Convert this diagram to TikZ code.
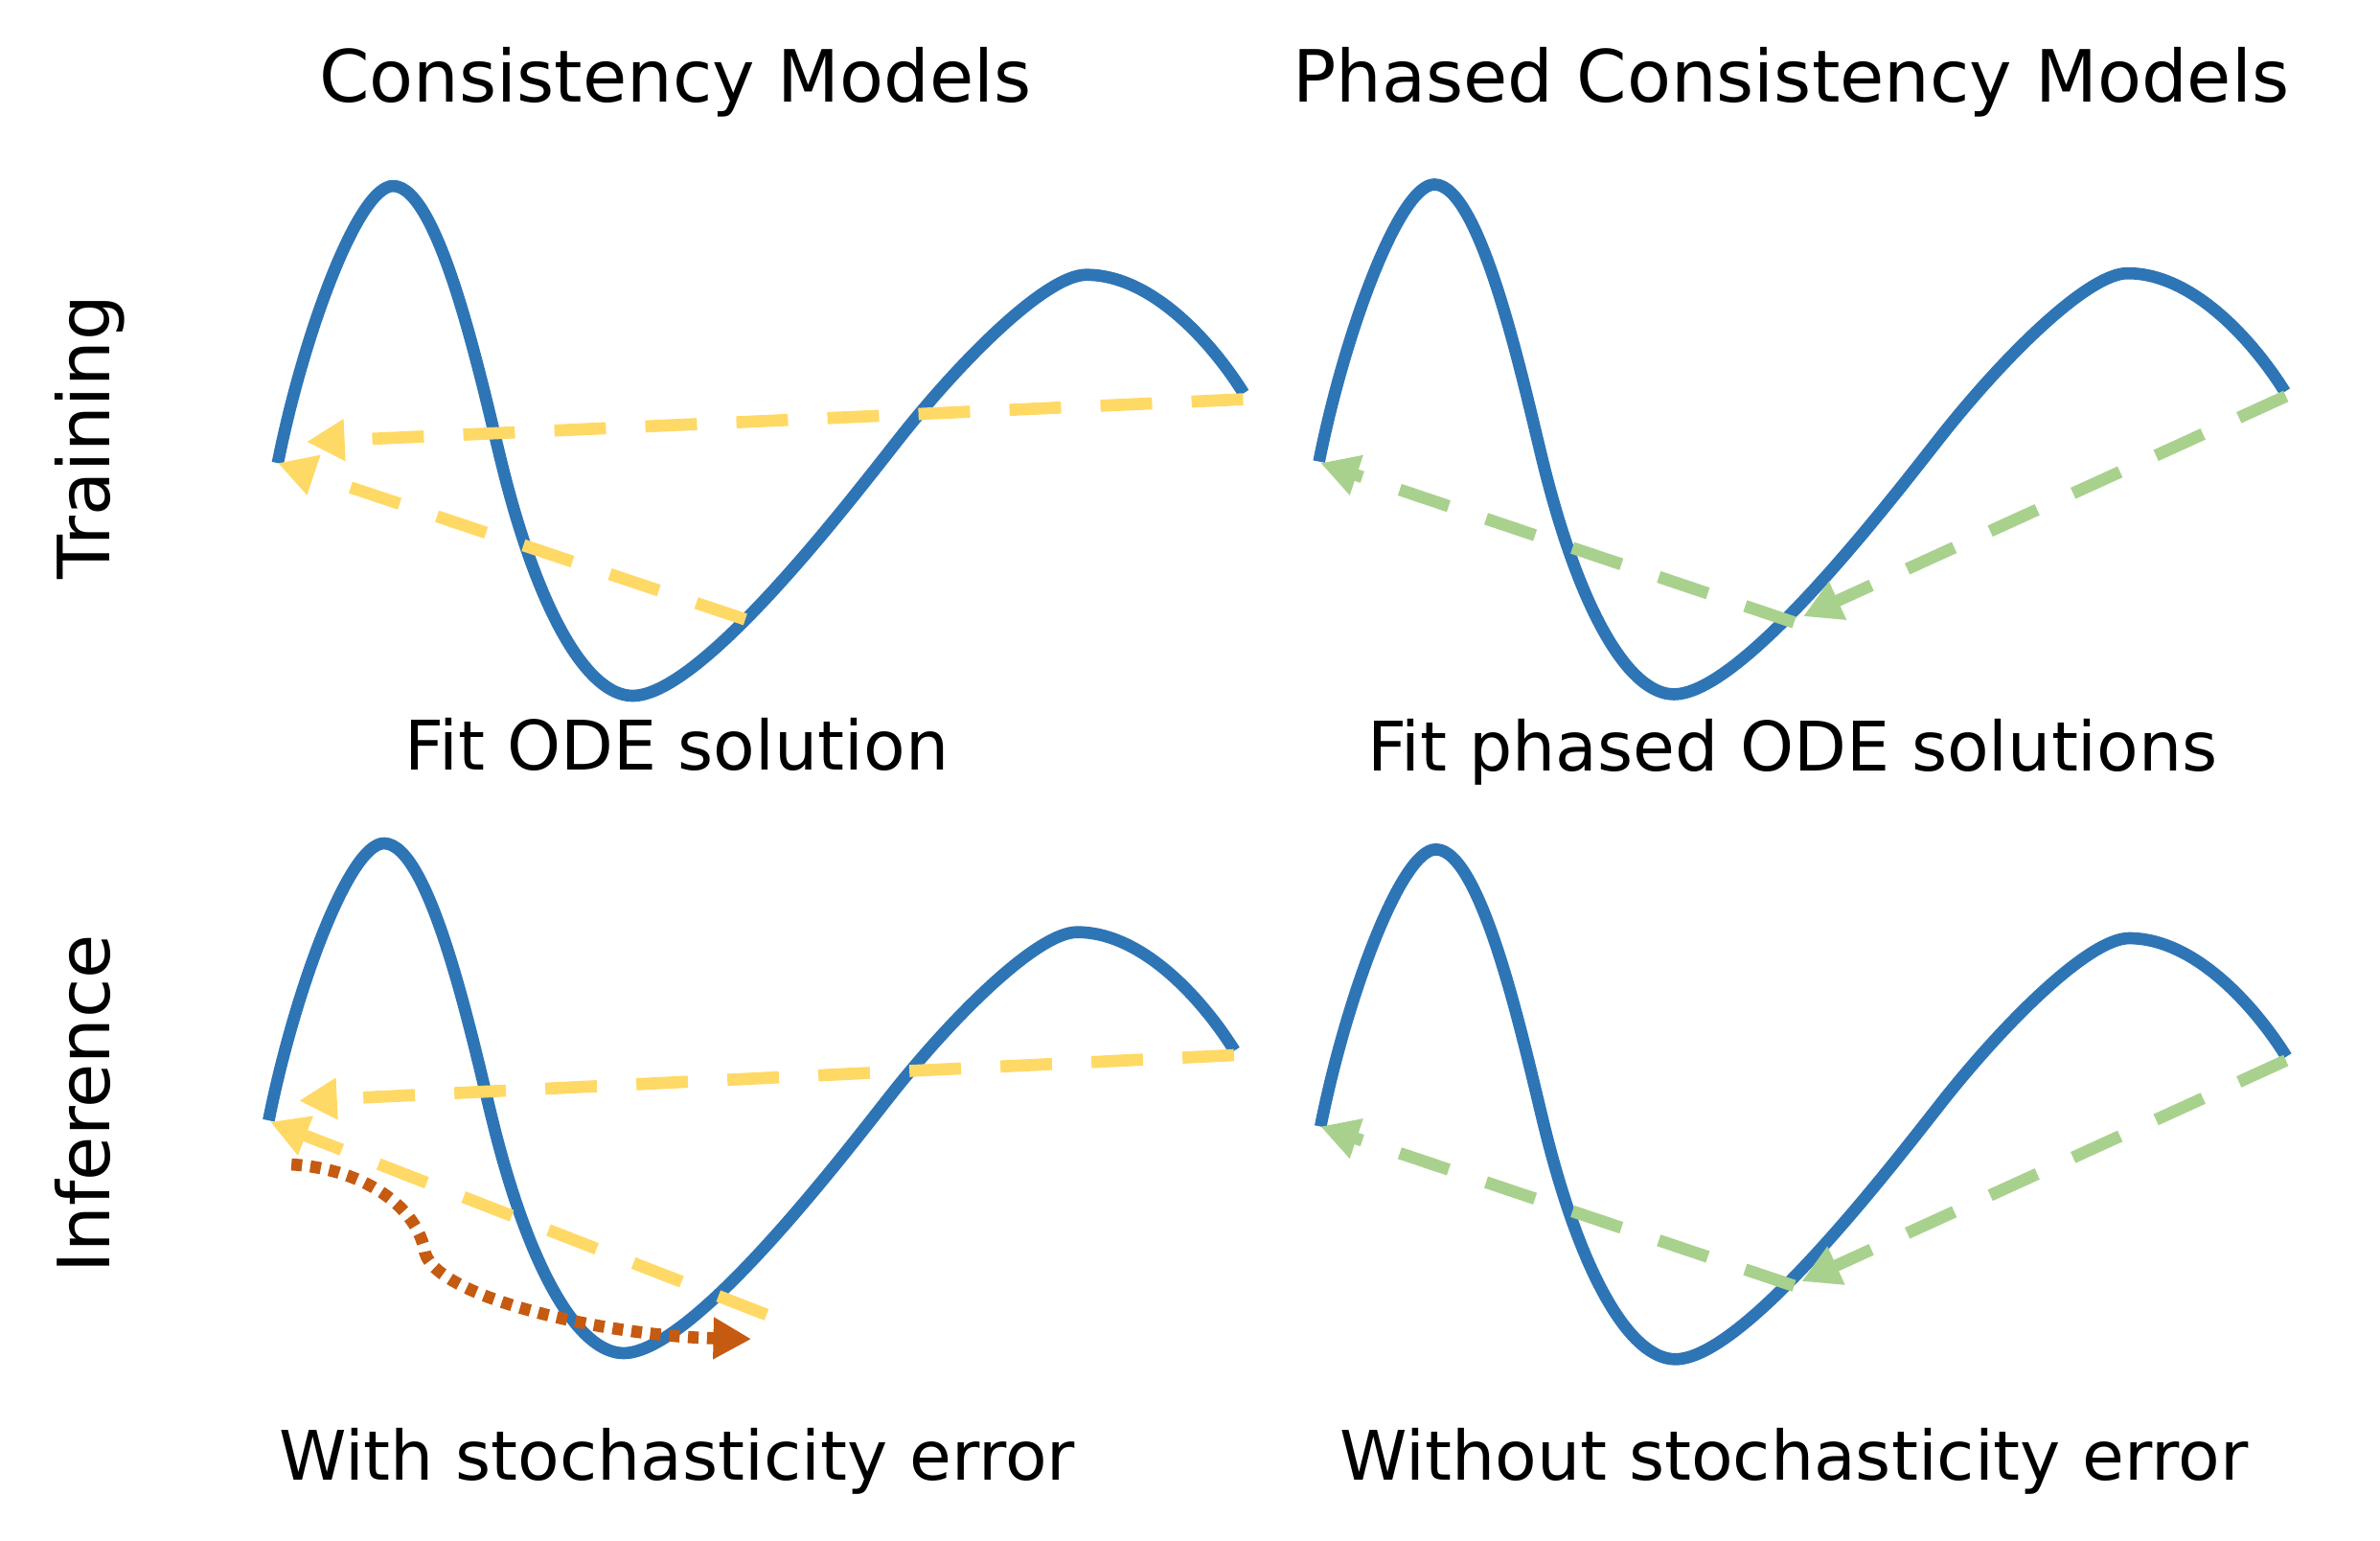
\documentclass[tikz,border=0pt]{standalone}
\usepackage{fontspec}
\setmainfont{DejaVu Sans}
\usetikzlibrary{arrows.meta}
\definecolor{wblue}{HTML}{2E75B6}
\definecolor{wyellow}{HTML}{FFD966}
\definecolor{wgreen}{HTML}{A9D18E}
\definecolor{worange}{HTML}{C55A11}
\begin{document}
\begin{tikzpicture}[x=0.01cm, y=-0.01cm,
  bluewave/.style={draw=wblue, line width=0.08cm, line join=round},
  tipstyle/.style={-{Triangle[length=0.25cm,width=0.26cm]}},
  ydash/.style={draw=wyellow, line width=0.08cm, dash pattern=on 0.34cm off 0.26cm, tipstyle},
  gdash/.style={draw=wgreen, line width=0.08cm, dash pattern=on 0.34cm off 0.26cm, tipstyle},
  odot/.style={draw=worange, line width=0.08cm, dash pattern=on 0.07cm off 0.055cm, tipstyle},
  title/.style={anchor=base, inner sep=0pt, font=\fontsize{13.5}{16}\selectfont},
  lab/.style={anchor=base, inner sep=0pt, font=\fontsize{12.8}{15}\selectfont},
  side/.style={anchor=base, inner sep=0pt, rotate=90, font=\fontsize{13.5}{16}\selectfont},
  wave/.pic={\draw[bluewave] (183,305)
      .. controls (200,220) and (236,122.5) .. (259,122.5)
      .. controls (290,122.5) and (318,255) .. (331,307.3)
      .. controls (355.7,406.4) and (388,458.3) .. (416.8,458.3)
      .. controls (462,458.3) and (560,330) .. (593.1,288)
      .. controls (635.3,234.8) and (690,181) .. (715.7,181)
      .. controls (760,181) and (800,228) .. (819.3,259);}
]
\path[use as bounding box] (0,0) rectangle (1568,1015);

% titles and labels
\node[title] (t1) at (445,67) {Consistency Models};
\node[title] (t2) at (1180,67) {Phased Consistency Models};
\node[side] (s1) at (72,288) {Training};
\node[side] (s2) at (72,727) {Inference};
\node[lab] (l1) at (446,507) {Fit ODE solution};
\node[lab] (l2) at (1181,508) {Fit phased ODE solutions};
\node[lab] (l3) at (446,975) {With stochasticity error};
\node[lab] (l4) at (1182,975) {Without stochasticity error};

% waves
\pic at (0,0) {wave};
\pic at (686,-1) {wave};
\pic at (-6,433) {wave};
\pic at (687,437) {wave};

% arrow end points
\coordinate (a1s) at (819,263);   \coordinate (a1e) at (202,291);
\coordinate (a2s) at (491,408);   \coordinate (a2e) at (183,305);
\coordinate (b1s) at (1506,261);  \coordinate (b1e) at (1188,406);
\coordinate (b2s) at (1182,410);  \coordinate (b2e) at (870,305);
\coordinate (c1s) at (813,695);   \coordinate (c1e) at (197,725);
\coordinate (c2s) at (505,866);   \coordinate (c2e) at (178,739);
\coordinate (d1s) at (1506,698.5);\coordinate (d1e) at (1187,844);
\coordinate (d2s) at (1182,847);  \coordinate (d2e) at (870,742);
\coordinate (o0) at (192,767);
\coordinate (o1) at (280,825);
\coordinate (o2) at (495,882);

% training, consistency models
\draw[ydash] (a1s) -- (a1e);
\draw[ydash] (a2s) -- (a2e);
% training, phased
\draw[gdash] (b1s) -- (b1e);
\draw[gdash] (b2s) -- (b2e);
% inference, consistency models
\draw[ydash] (c1s) -- (c1e);
\draw[ydash] (c2s) -- (c2e);
\draw[odot] (o0) .. controls (240,770) and (275,795) .. (o1)
  .. controls (288,855) and (400,880) .. (o2);
% inference, phased
\draw[gdash] (d1s) -- (d1e);
\draw[gdash] (d2s) -- (d2e);
\end{tikzpicture}
\end{document}
